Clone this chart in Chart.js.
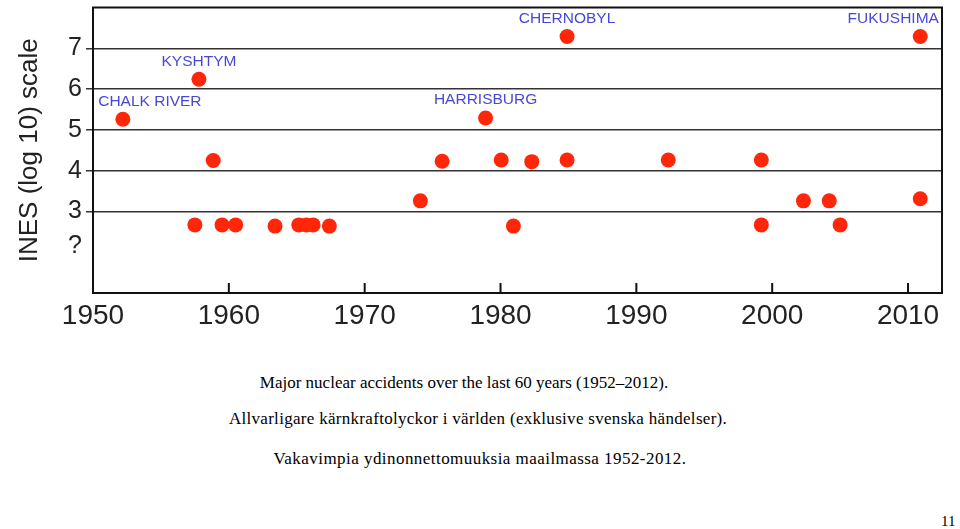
<!DOCTYPE html>
<html>
<head>
<meta charset="utf-8">
<script src="https://cdn.jsdelivr.net/npm/chart.js@4"></script>
<style>
  html, body { margin: 0; padding: 0; background: #fff; }
  body { width: 960px; height: 529px; position: relative; overflow: hidden; }
  #wrap { position: absolute; left: 0; top: 0; width: 960px; height: 340px; }
  .cap { position: absolute; font-family: "Liberation Serif", "Times New Roman", serif; font-size: 17px; color: #000; white-space: nowrap; transform: translateX(-50%); line-height: 20px; }
  .pg { position: absolute; font-family: "Liberation Serif", "Times New Roman", serif; font-size: 15px; color: #000; line-height: 18px; }
</style>
</head>
<body>
<div id="wrap"><canvas id="chart"></canvas></div>
<div class="cap" style="left:464px; top:373px;">Major nuclear accidents over the last 60 years (1952–2012).</div>
<div class="cap" style="left:478px; top:409px; letter-spacing:0.3px;">Allvarligare kärnkraftolyckor i världen (exklusive svenska händelser).</div>
<div class="cap" style="left:480px; top:449px; letter-spacing:0.45px;">Vakavimpia ydinonnettomuuksia maailmassa 1952-2012.</div>
<div class="pg" style="left:941px; top:512px;">11</div>

<script>
// accidents: year and INES level (values below 3 are the "?" row)
const years = [1952.2, 1957.5, 1957.8, 1958.85, 1959.5, 1960.5, 1963.4, 1965.15, 1965.7, 1966.2, 1967.4,
  1974.1, 1975.7, 1978.9, 1980.05, 1980.95, 1982.3, 1984.9, 1984.9,
  1992.35, 1999.2, 1999.2, 2002.3, 2004.2, 2005.0, 2010.9, 2010.9];
const ines = [5.26, 2.67, 6.24, 4.25, 2.67, 2.67, 2.64, 2.67, 2.67, 2.67, 2.64,
  3.26, 4.23, 5.29, 4.26, 2.64, 4.22, 4.26, 7.29,
  4.26, 4.26, 2.67, 3.26, 3.26, 2.67, 3.31, 7.29];

const xTicks = [1950, 1960, 1970, 1980, 1990, 2000, 2010];
const yTicks = [2.15, 3, 4, 5, 6, 7];
const yTickLabels = ['?', '3', '4', '5', '6', '7'];

const labelNames = ['CHALK RIVER', 'KYSHTYM', 'HARRISBURG', 'CHERNOBYL', 'FUKUSHIMA'];
const labelPoints = [0, 2, 13, 18, 26];
const labelShift = [27, 0, 0, 0, -27];

// frame, inward x ticks and the blue names
const framePlugin = {
  id: 'frame',
  afterDraw(chart) {
    const ctx = chart.ctx;
    const a = chart.chartArea;
    const x = chart.scales.x;
    ctx.save();
    ctx.strokeStyle = '#111';
    ctx.lineWidth = 2;
    ctx.strokeRect(a.left, a.top, a.right - a.left, a.bottom - a.top);
    ctx.beginPath();
    xTicks.forEach(v => {
      const px = x.getPixelForValue(v);
      if (px - a.left < 2) return;
      ctx.moveTo(px, a.bottom);
      ctx.lineTo(px, a.bottom - 10);
    });
    ctx.stroke();

    const meta = chart.getDatasetMeta(0);
    ctx.fillStyle = 'rgb(72, 72, 215)';
    ctx.font = '15.5px "Liberation Sans", Arial, sans-serif';
    ctx.textAlign = 'center';
    ctx.textBaseline = 'middle';
    labelNames.forEach((name, i) => {
      const pt = meta.data[labelPoints[i]];
      ctx.fillText(name, pt.x + labelShift[i], pt.y - 18);
    });
    ctx.restore();
  }
};

const ctx = document.getElementById('chart').getContext('2d');
new Chart(ctx, {
  type: 'scatter',
  data: {
    datasets: [{
      data: years.map((y, i) => ({ x: y, y: ines[i] })),
      backgroundColor: 'rgb(255, 38, 10)',
      borderWidth: 0,
      pointRadius: 7.5,
      pointHoverRadius: 7.5
    }]
  },
  options: {
    responsive: true,
    maintainAspectRatio: false,
    animation: false,
    layout: { padding: { top: 6, right: 18, left: 0, bottom: 0 } },
    plugins: {
      legend: { display: false },
      tooltip: { enabled: false }
    },
    scales: {
      x: {
        type: 'linear',
        min: 1950,
        max: 2012.5,
        afterBuildTicks: scale => { scale.ticks = xTicks.map(v => ({ value: v })); },
        afterFit: scale => { scale.height = 47; scale.paddingLeft = 0; scale.paddingRight = 0; },
        grid: { drawOnChartArea: false, drawTicks: false },
        border: { display: true, color: '#111', width: 2 },
        ticks: {
          autoSkip: false,
          maxRotation: 0,
          padding: 6,
          color: '#222',
          font: { family: '"Liberation Sans", Arial, sans-serif', size: 28 },
          callback: v => String(v)
        }
      },
      y: {
        min: 1,
        max: 8,
        afterBuildTicks: scale => { scale.ticks = yTicks.map(v => ({ value: v })); },
        afterFit: scale => { scale.width = 93; scale.paddingTop = 0; scale.paddingBottom = 0; },
        grid: {
          color: c => (c.tick && c.tick.value < 3 ? 'rgba(0,0,0,0)' : '#333'),
          lineWidth: 1.5,
          drawTicks: true,
          tickLength: 7
        },
        border: { display: true, color: '#111', width: 2 },
        ticks: {
          autoSkip: false,
          padding: 4,
          color: '#222',
          font: { family: '"Liberation Sans", Arial, sans-serif', size: 25 },
          callback: (v, i) => yTickLabels[i]
        },
        title: {
          display: true,
          text: 'INES (log 10) scale',
          color: '#222',
          font: { family: '"Liberation Sans", Arial, sans-serif', size: 26 },
          padding: { top: 14, bottom: 0 }
        }
      }
    }
  },
  plugins: [framePlugin]
});
</script>
</body>
</html>
